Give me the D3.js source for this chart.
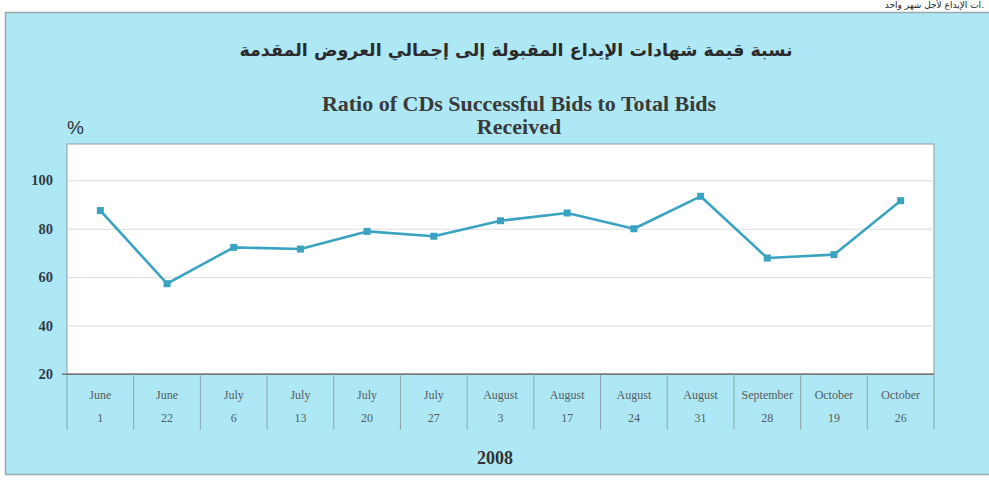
<!DOCTYPE html>
<html>
<head>
<meta charset="utf-8">
<script src="https://cdn.jsdelivr.net/npm/d3@7"></script>
<style>
  html, body { margin: 0; padding: 0; background: #ffffff; }
  svg { display: block; }
</style>
</head>
<body>
<svg id="chart" width="989" height="480"></svg>
<script>
const months = ["June","June","July","July","July","July","August","August","August","August","September","October","October"];
const days = ["1","22","6","13","20","27","3","17","24","31","28","19","26"];
const values = [87.5, 57.3, 72.3, 71.6, 78.9, 76.9, 83.3, 86.5, 80.0, 93.4, 67.9, 69.3, 91.6];
const yTicks = [20, 40, 60, 80, 100];
const titleAr = "نسبة قيمة شهادات الإيداع المقبولة إلى إجمالي العروض المقدمة";
const titleEn1 = "Ratio of CDs Successful Bids to Total Bids";
const titleEn2 = "Received";
const yearLabel = "2008";
const topNote = "ات الإيداع لأجل شهر واحد.";

const svg = d3.select("#chart");
const W = 989, H = 480;
const bg = "#aee8f5";

// top strip note (cut off in the source scan)
svg.append("text").attr("x", 984).attr("y", 8).attr("text-anchor", "end")
  .attr("font-family", "'DejaVu Sans', sans-serif").attr("font-size", 9).attr("fill", "#222")
  .text(topNote);

// panel
svg.append("rect").attr("x", 5.5).attr("y", 12.5).attr("width", W).attr("height", 462)
  .attr("fill", bg).attr("stroke", "#9aa9ad").attr("stroke-width", 1.5);

const L = 67, R = 934, T = 144, B = 374;
const x = d3.scaleBand().domain(d3.range(values.length)).range([L, R]).padding(0);
const y = d3.scaleLinear().domain([20, 115]).range([B, T]);

// titles
svg.append("text").attr("x", 516).attr("y", 56).attr("text-anchor", "middle")
  .attr("font-family", "'DejaVu Sans', 'Noto Sans', sans-serif").attr("font-weight", "bold")
  .attr("font-size", 17.5).attr("fill", "#2b2b2b").attr("direction", "rtl").text(titleAr);
svg.append("text").attr("x", 519).attr("y", 111).attr("text-anchor", "middle")
  .attr("font-family", "'Liberation Serif', serif").attr("font-weight", "bold")
  .attr("font-size", 22).attr("fill", "#3a3a3a").text(titleEn1);
svg.append("text").attr("x", 519).attr("y", 134).attr("text-anchor", "middle")
  .attr("font-family", "'Liberation Serif', serif").attr("font-weight", "bold")
  .attr("font-size", 22).attr("fill", "#3a3a3a").text(titleEn2);
svg.append("text").attr("x", 67).attr("y", 134)
  .attr("font-family", "'Liberation Sans', Arial, sans-serif")
  .attr("font-size", 19).attr("fill", "#333").text("%");

// plot area
svg.append("rect").attr("x", L).attr("y", T).attr("width", R - L).attr("height", B - T)
  .attr("fill", "#ffffff").attr("stroke", "#8f9a9c").attr("stroke-width", 1);

// gridlines + y labels
const yAxis = d3.axisLeft(y).tickValues(yTicks).tickSize(-(R - L)).tickPadding(10).tickFormat(d3.format("d"));
const gy = svg.append("g").attr("transform", `translate(${L},0)`).call(yAxis);
gy.select(".domain").remove();
gy.selectAll(".tick line").attr("stroke", "#dcdcdc").attr("stroke-width", 1);
gy.selectAll(".tick").filter(d => d === 20).select("line").attr("stroke", "#777").attr("x1", -5);
gy.selectAll(".tick text").attr("font-family", "'Liberation Serif', serif").attr("font-weight", "bold")
  .attr("font-size", 14.5).attr("fill", "#2e3b48").attr("x", -14);

// x axis: separators and labels
const xg = svg.append("g");
const seps = d3.range(values.length + 1);
const sepX = i => i < values.length ? x(i) : x(values.length - 1) + x.bandwidth();
xg.selectAll("line.sep").data(seps).join("line")
  .attr("x1", sepX).attr("x2", sepX)
  .attr("y1", B).attr("y2", 430).attr("stroke", "#8fa5aa").attr("stroke-width", 1);
xg.append("line").attr("x1", L - 5).attr("x2", R).attr("y1", B).attr("y2", B).attr("stroke", "#777");
xg.selectAll("text.m").data(months).join("text")
  .attr("x", (d, i) => x(i) + x.bandwidth() / 2).attr("y", 399).attr("text-anchor", "middle")
  .attr("font-family", "'Liberation Serif', serif").attr("font-size", 12).attr("fill", "#555c60").text(d => d);
xg.selectAll("text.d").data(days).join("text")
  .attr("x", (d, i) => x(i) + x.bandwidth() / 2).attr("y", 422).attr("text-anchor", "middle")
  .attr("font-family", "'Liberation Serif', serif").attr("font-size", 12).attr("fill", "#555c60").text(d => d);

svg.append("text").attr("x", 495).attr("y", 464).attr("text-anchor", "middle")
  .attr("font-family", "'Liberation Serif', serif").attr("font-weight", "bold")
  .attr("font-size", 18).attr("fill", "#333").text(yearLabel);

// line
const line = d3.line().x((d, i) => x(i) + x.bandwidth() / 2).y(d => y(d));
svg.append("path").datum(values).attr("d", line).attr("fill", "none")
  .attr("stroke", "#3aa3c2").attr("stroke-width", 2.6).attr("stroke-linejoin", "round");
svg.selectAll("rect.pt").data(values).join("rect")
  .attr("x", (d, i) => x(i) + x.bandwidth() / 2 - 3.5).attr("y", d => y(d) - 3.5)
  .attr("width", 7).attr("height", 7).attr("fill", "#3aa3c2");
</script>
</body>
</html>
